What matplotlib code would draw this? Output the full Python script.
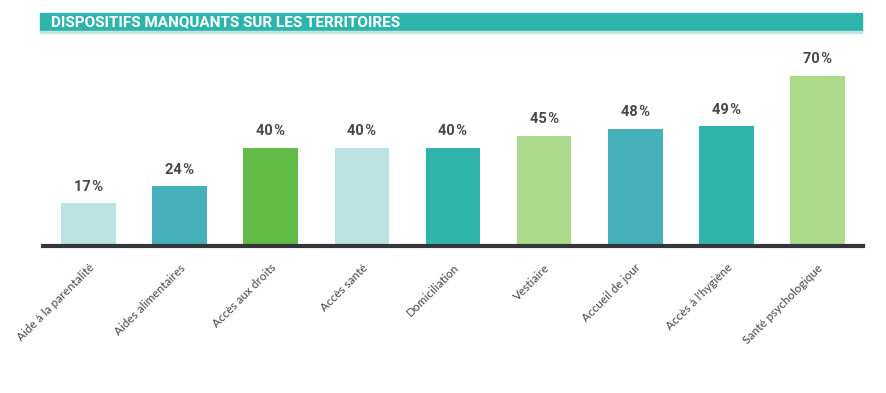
import matplotlib.pyplot as plt
from matplotlib.patches import Rectangle

# Data
categories = ["Aide à la parentalité", "Aides alimentaires", "Accès aux droits",
              "Accès santé", "Domiciliation", "Vestiaire", "Accueil de jour",
              "Accès à l'hygiène", "Santé psychologique"]
values = [17, 24, 40, 40, 40, 45, 48, 49, 70]
colors = ["#bce2e4", "#47b1bb", "#62bb46", "#bce2e4", "#2fb4ab",
          "#addb8b", "#47b1bb", "#2fb4ab", "#addb8b"]
title = "DISPOSITIFS MANQUANTS SUR LES TERRITOIRES"

fig = plt.figure(figsize=(8.87, 3.93), dpi=100)
W, H = 887, 393

# Title banner
fig.patches.append(Rectangle((40 / W, 1 - 31 / H), 822 / W, 18 / H,
                             transform=fig.transFigure, color="#2fb4ab", zorder=0))
fig.patches.append(Rectangle((40 / W, 1 - 33 / H), 822 / W, 2 / H,
                             transform=fig.transFigure, color="#bfe6e3", zorder=0))
fig.text(51 / W, 1 - 22 / H, title, color="white", fontsize=11,
         fontweight="bold", family="Roboto", va="center", ha="left")

# Bars
ax = fig.add_axes([43 / W, 1 - 244 / H, 820 / W, 204 / H])
x = range(len(categories))
ax.bar(x, values, width=0.6, color=colors, zorder=2)
ax.set_xlim(-0.5, len(categories) - 0.5)
ax.set_ylim(0, 85)

for i, v in enumerate(values):
    ax.text(i, v + 4, f"{v}\u200a%", ha="center", va="bottom", fontsize=10.5,
            fontweight="bold", color="#45474b", family="Roboto")

# thick baseline just under the bars
ax.axhline(-0.9, color="#33363b", linewidth=3, zorder=3, clip_on=False)
for s in ax.spines.values():
    s.set_visible(False)
ax.set_yticks([])
ax.set_xticks(list(x))
ax.set_xticklabels(categories, rotation=45, ha="right", rotation_mode="anchor",
                   fontsize=8.5, color="#444444", family="Lato")
ax.tick_params(axis="x", length=0, pad=13)

fig.savefig("out.png", dpi=100)
